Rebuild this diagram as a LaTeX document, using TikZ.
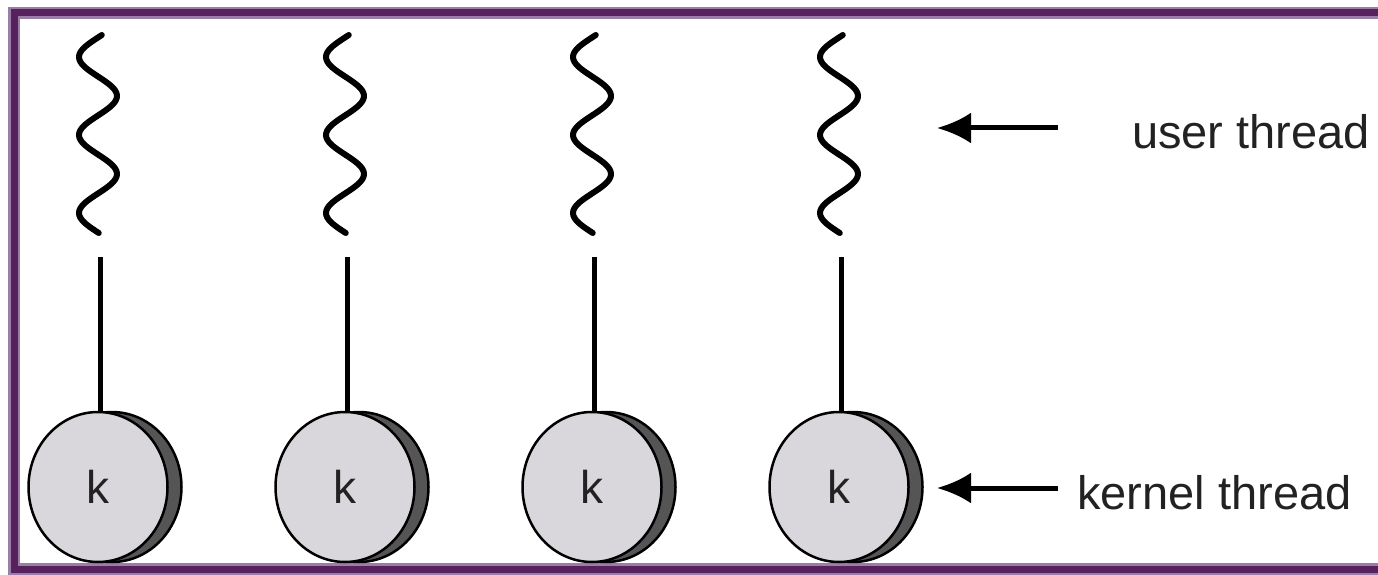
\documentclass[tikz,border=0pt]{standalone}
\usepackage{fontspec}
\setmainfont{Liberation Sans}
\usetikzlibrary{arrows.meta,shapes.geometric}
\definecolor{framedark}{HTML}{56215C}
\definecolor{framelight}{HTML}{9A7EA8}
\definecolor{diskfill}{HTML}{D9D7DB}
\definecolor{diskshade}{HTML}{555555}
\definecolor{labelgray}{HTML}{222222}
\begin{document}
\begin{tikzpicture}[x=1pt,y=-1pt,
  disk/.style={ellipse,draw=black,line width=2.5,fill=diskfill,minimum width=139,minimum height=150,inner sep=0,text=labelgray,font=\fontsize{46}{48}\selectfont},
  diskback/.style={ellipse,draw=black,line width=2.5,fill=diskshade,minimum width=139,minimum height=150,inner sep=0},
  wave/.style={line width=6,line cap=round},
  link/.style={line width=5},
  pointer/.style={line width=5,-{Latex[length=34,width=31]}},
  lbl/.style={anchor=base west,text=labelgray,font=\fontsize{47}{50}\selectfont,inner sep=0}]
\useasboundingbox (0,0) rectangle (1378,575);
\fill[white] (0,0) rectangle (1378,575);
\draw[framelight,line width=12] (1380,13) -- (14,13) -- (14,569) -- (1380,569);
\draw[framedark,line width=7] (1380,13) -- (14,13) -- (14,569) -- (1380,569);
\foreach \i/\cx in {1/98,2/345,3/592,4/839} {
  \node[diskback] (b\i) at (\cx+14,487) {};
  \node[disk] (k\i) at (\cx,487) {k};
  \coordinate (w\i) at (\cx+2,257);
  \draw[link] (w\i) -- (w\i |- k\i.north);
  \draw[wave] plot[domain=35:233,samples=90,smooth] ({\cx-19*cos((\x-57)/39*180)},\x);
}
\coordinate (ut) at (1058,128);
\coordinate (uh) at (937,128);
\draw[pointer] (ut) -- (uh);
\node[lbl] (ulabel) at (1132,148) {user thread};
\coordinate (kt) at (1058,488);
\coordinate (kh) at (937,488);
\draw[pointer] (kt) -- (kh);
\node[lbl] (klabel) at (1077,509) {kernel thread};
\end{tikzpicture}
\end{document}
